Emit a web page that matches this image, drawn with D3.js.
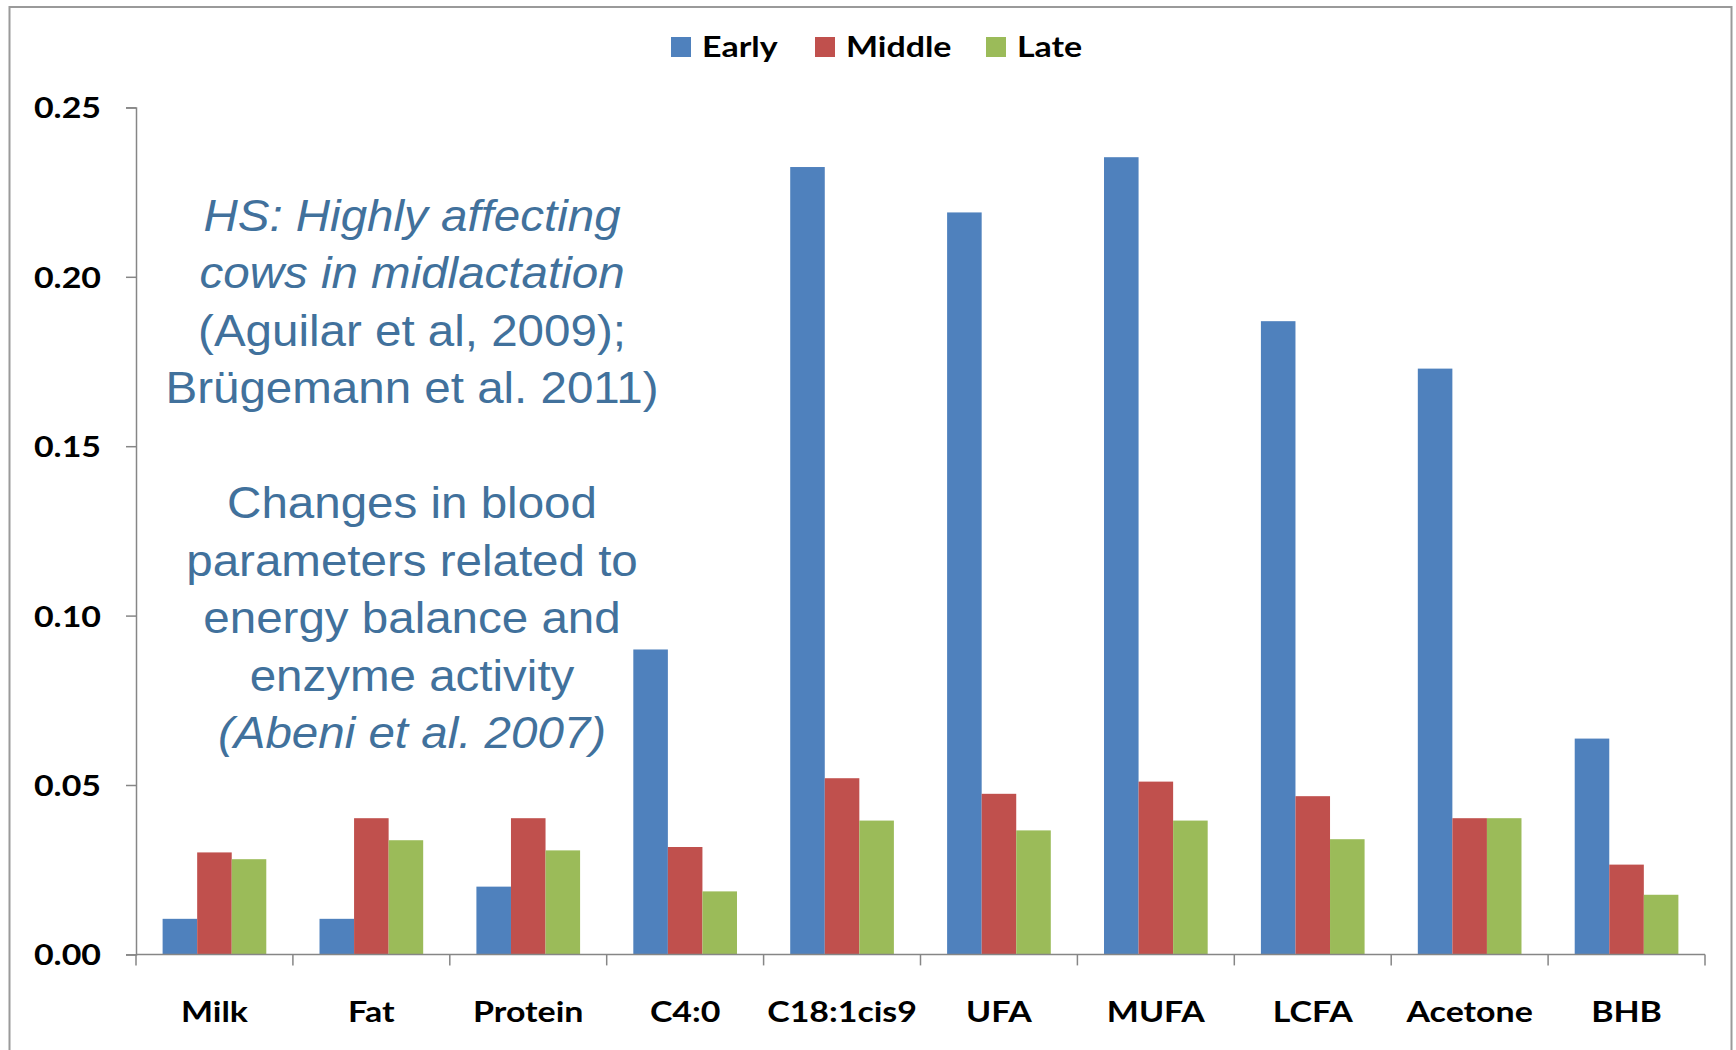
<!DOCTYPE html>
<html>
<head>
<meta charset="utf-8">
<script src="https://cdn.jsdelivr.net/npm/d3@7"></script>
<style>
  body { margin: 0; background: #fff; }
  svg { display: block; }
</style>
</head>
<body>
<div id="chart"></div>
<script>
var svgWidth = 1736;
var svgHeight = 1050;

// data
var categories = ["Milk", "Fat", "Protein", "C4:0", "C18:1cis9", "UFA", "MUFA", "LCFA", "Acetone", "BHB"];
var seriesNames = ["Early", "Middle", "Late"];
var early  = [0.0105, 0.0105, 0.0200, 0.0900, 0.2324, 0.2190, 0.2353, 0.1869, 0.1729, 0.0637];
var middle = [0.0301, 0.0402, 0.0402, 0.0317, 0.0520, 0.0474, 0.0510, 0.0467, 0.0402, 0.0265];
var late   = [0.0281, 0.0337, 0.0307, 0.0186, 0.0395, 0.0366, 0.0395, 0.0340, 0.0402, 0.0176];
var yTicks = [0, 0.05, 0.10, 0.15, 0.20, 0.25];
var colors = ["#4F81BD", "#C0504D", "#9BBB59"];

var noteLines = [
  {t: "HS: Highly affecting", i: true},
  {t: "cows in midlactation", i: true},
  {t: "(Aguilar et al, 2009);", i: false},
  {t: "Brügemann et al. 2011)", i: false},
  {t: "", i: false},
  {t: "Changes in blood", i: false},
  {t: "parameters related to", i: false},
  {t: "energy balance and", i: false},
  {t: "enzyme activity", i: false},
  {t: "(Abeni et al. 2007)", i: true}
];

var margin = {top: 107.4, right: 31, bottom: 95.6, left: 136};
var width = svgWidth - margin.left - margin.right;
var height = svgHeight - margin.top - margin.bottom;

var labelFont = "Lato, 'Open Sans', sans-serif";
var labelSize = 29;
var labelStretch = "scale(1.17,1)";

var svg = d3.select("#chart")
  .append("svg")
    .attr("width", svgWidth)
    .attr("height", svgHeight);

// outer frame
svg.append("rect")
  .attr("x", 9.5).attr("y", 7)
  .attr("width", 1722).attr("height", 1060)
  .attr("fill", "none")
  .attr("stroke", "#9a9a9a")
  .attr("stroke-width", 2);

var chartGroup = svg.append("g")
  .attr("transform", `translate(${margin.left}, ${margin.top})`);

var x0 = d3.scaleBand().domain(categories).range([0, width]).padding(0);
var x1 = d3.scaleBand().domain(seriesNames).range([0, x0.bandwidth()]).paddingInner(0).paddingOuter(0.77);
var y = d3.scaleLinear().domain([0, 0.25]).range([height, 0]);

var table = categories.map(function(c, i) {
  return {cat: c, values: [early[i], middle[i], late[i]]};
});

// bars
var groups = chartGroup.selectAll(".grp")
  .data(table)
  .enter()
  .append("g")
  .attr("class", "grp")
  .attr("transform", d => `translate(${x0(d.cat)},0)`);

groups.selectAll("rect")
  .data(d => d.values.map((v, k) => ({name: seriesNames[k], v: v, k: k})))
  .enter()
  .append("rect")
  .attr("x", d => x1(d.name))
  .attr("y", d => y(d.v))
  .attr("width", x1.bandwidth())
  .attr("height", d => height - y(d.v))
  .attr("fill", d => colors[d.k]);

// y axis
var yAxis = d3.axisLeft(y).tickValues(yTicks).tickFormat(d3.format(".2f")).tickSizeOuter(0).tickSize(10);
var yg = chartGroup.append("g").call(yAxis);
yg.select(".domain").attr("stroke", "#868686").attr("stroke-width", 1.5);
yg.selectAll(".tick line").attr("stroke", "#868686").attr("stroke-width", 1.5);
yg.selectAll(".tick text")
  .attr("font-family", labelFont)
  .attr("font-weight", "bold")
  .attr("font-size", labelSize)
  .attr("fill", "#000")
  .attr("dy", "0.36em")
  .attr("transform", labelStretch)
  .attr("x", -35 / 1.17);

// x axis: line, boundary ticks, labels at band centres
var xg = chartGroup.append("g").attr("transform", `translate(0, ${height})`);
xg.append("line")
  .attr("x1", 0).attr("x2", width)
  .attr("stroke", "#868686").attr("stroke-width", 1.5);
var bounds = categories.map(c => x0(c)).concat([width]);
xg.selectAll(".bt")
  .data(bounds)
  .enter()
  .append("line")
  .attr("x1", d => d).attr("x2", d => d)
  .attr("y1", 0).attr("y2", 11)
  .attr("stroke", "#868686").attr("stroke-width", 1.5);
xg.selectAll(".xl")
  .data(categories)
  .enter()
  .append("text")
  .attr("transform", d => `translate(${x0(d) + x0.bandwidth() / 2}, 67.3) ${labelStretch}`)
  .attr("text-anchor", "middle")
  .attr("font-family", labelFont)
  .attr("font-weight", "bold")
  .attr("font-size", labelSize)
  .attr("fill", "#000")
  .text(d => d);

// legend
var legendX = [671, 815, 986];
var legend = svg.append("g");
var items = legend.selectAll(".lg")
  .data(seriesNames)
  .enter()
  .append("g")
  .attr("transform", (d, i) => `translate(${legendX[i]}, 37)`);
items.append("rect")
  .attr("width", 20).attr("height", 20)
  .attr("fill", (d, i) => colors[i]);
items.append("text")
  .attr("transform", `translate(31, 19.7) ${labelStretch}`)
  .attr("font-family", labelFont)
  .attr("font-weight", "bold")
  .attr("font-size", labelSize)
  .attr("fill", "#000")
  .text(d => d);

// annotation
var note = svg.append("g");
note.selectAll("text")
  .data(noteLines)
  .enter()
  .append("text")
  .attr("transform", (d, i) => `translate(412, ${230.5 + 57.5 * i}) scale(1.08,1)`)
  .attr("text-anchor", "middle")
  .attr("font-family", "'Liberation Sans', Arial, sans-serif")
  .attr("font-size", 44)
  .attr("font-style", d => d.i ? "italic" : "normal")
  .attr("fill", "#41719C")
  .text(d => d.t);
</script>
</body>
</html>
